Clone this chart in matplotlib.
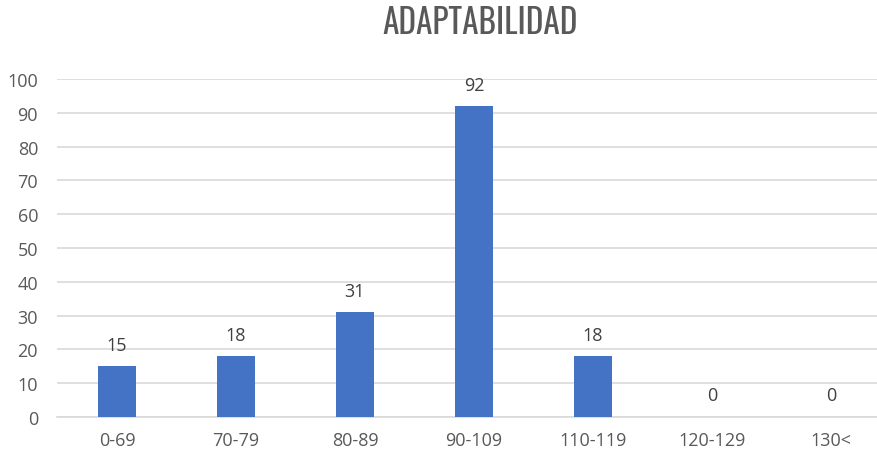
import matplotlib.pyplot as plt

categorias = ["0-69", "70-79", "80-89", "90-109", "110-119", "120-129", "130<"]
valores = [15, 18, 31, 92, 18, 0, 0]
yticks = [0, 10, 20, 30, 40, 50, 60, 70, 80, 90, 100]

plt.rcParams['font.family'] = ['Open Sans', 'DejaVu Sans']

fig = plt.figure(figsize=(8.78, 4.56), dpi=100)
ax = fig.add_axes([57.5 / 878, 38 / 456, 833 / 878, 338 / 456])

x = range(len(categorias))
ax.bar(x, valores, width=0.32, color='#4472C4', zorder=3)

for xi, v in zip(x, valores):
    ax.annotate(str(v), (xi, v), xytext=(0, 9), textcoords='offset points',
                ha='center', va='bottom', fontsize=13, color='#404040')

ax.set_xlim(-0.5, len(categorias) - 0.5)
ax.set_ylim(0, 100)
ax.set_yticks(yticks)
ax.set_xticks(list(x))
ax.set_xticklabels(categorias)
ax.grid(axis='y', color='#d9d9d9', linewidth=1.2, zorder=0)
for s in ['top', 'right', 'left']:
    ax.spines[s].set_visible(False)
ax.spines['bottom'].set_color('#d9d9d9')
ax.spines['bottom'].set_linewidth(1.2)
ax.tick_params(axis='both', length=0, labelsize=13, colors='#595959')
ax.tick_params(axis='y', pad=14)
ax.tick_params(axis='x', pad=10)

# titulo en fuente estrecha (si existe)
fig.text(480 / 878, 1 - 23 / 456, "ADAPTABILIDAD", ha='center', va='center',
         fontsize=24, color='#595959', fontstretch='condensed',
         family=['Oswald', 'Roboto Condensed', 'Liberation Sans Narrow', 'DejaVu Sans Condensed', 'DejaVu Sans'])

fig.savefig("out.png", dpi=100)
